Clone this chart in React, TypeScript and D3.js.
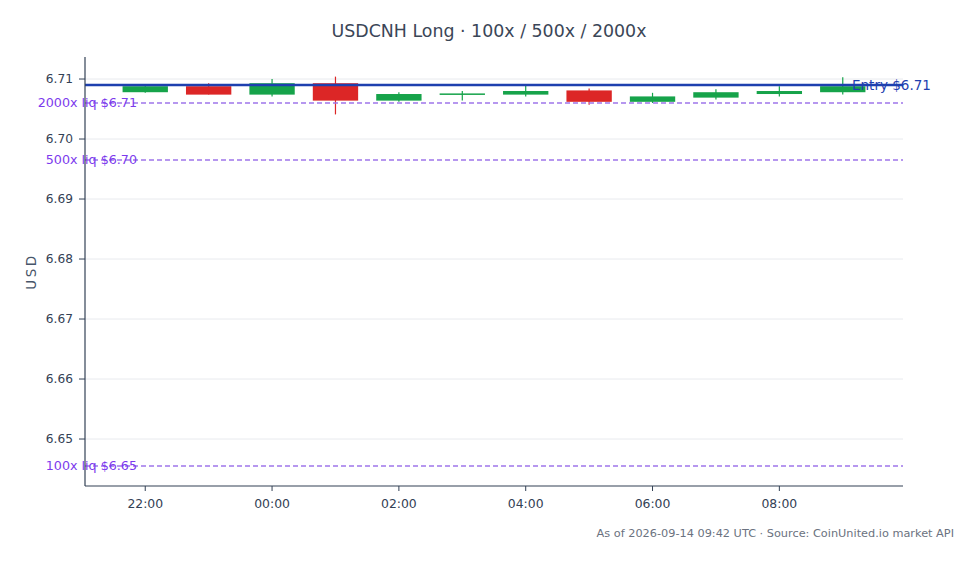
import React from "react";
import * as d3 from "d3";

const times: string[] = [
  "2026-09-13T22:00:00Z", "2026-09-13T23:00:00Z", "2026-09-14T00:00:00Z", "2026-09-14T01:00:00Z",
  "2026-09-14T02:00:00Z", "2026-09-14T03:00:00Z", "2026-09-14T04:00:00Z", "2026-09-14T05:00:00Z",
  "2026-09-14T06:00:00Z", "2026-09-14T07:00:00Z", "2026-09-14T08:00:00Z", "2026-09-14T09:00:00Z",
];
const opens: number[] = [6.7078, 6.7088, 6.7074, 6.7093, 6.7064, 6.7074, 6.7074, 6.7081, 6.7062, 6.7069, 6.7075, 6.7078];
const highs: number[] = [6.7090, 6.7093, 6.7100, 6.7104, 6.7078, 6.7080, 6.7089, 6.7084, 6.7077, 6.7083, 6.7088, 6.7103];
const lows: number[] = [6.7077, 6.7074, 6.7071, 6.7041, 6.7062, 6.7064, 6.7071, 6.7057, 6.7060, 6.7066, 6.7071, 6.7074];
const closes: number[] = [6.7088, 6.7074, 6.7093, 6.7064, 6.7075, 6.7076, 6.7080, 6.7062, 6.7071, 6.7078, 6.7080, 6.7088];

const entryPrice = 6.709;
const entryLabel = "Entry $6.71";
const liqLevels: number[] = [6.706, 6.6965, 6.6455];
const liqLabels: string[] = ["2000x liq $6.71", "500x liq $6.70", "100x liq $6.65"];
const yTicks: number[] = [6.65, 6.66, 6.67, 6.68, 6.69, 6.70, 6.71];
const yDomain: number[] = [6.64217, 6.71367];

const title = "USDCNH Long · 100x / 500x / 2000x";
const yLabel = "USD";
const footer = "As of 2026-09-14 09:42 UTC · Source: CoinUnited.io market API";

const W = 978, H = 564;
const M = { left: 85, right: 75, top: 57, bottom: 78 };
const FONT = "'DejaVu Sans', sans-serif";
const UP = "#16a34a", DOWN = "#dc2626";
const AXIS = "#334155";

export default function App() {
  const dates = times.map((t) => new Date(t));
  const pad = 57 * 60 * 1000;
  const x = d3
    .scaleUtc()
    .domain([new Date(+dates[0] - pad), new Date(+dates[dates.length - 1] + pad)])
    .range([M.left, W - M.right]);
  const y = d3.scaleLinear().domain(yDomain).range([H - M.bottom, M.top]);
  const hourPx = x(new Date(+dates[0] + 3600000)) - x(dates[0]);
  const bw = hourPx * 0.715;
  const xTicks = x.ticks(d3.utcHour.every(2) as any);
  const fmt = d3.utcFormat("%H:%M");
  const x0 = M.left, x1 = W - M.right, yB = H - M.bottom;

  return (
    <svg
      width={W}
      height={H}
      style={{ position: "absolute", left: 0, top: 0, background: "#fff" }}
      fontFamily={FONT}
    >
      <rect width={W} height={H} fill="#fff" />
      <text x={W / 2} y={37} textAnchor="middle" fontSize={17.4} fill="#3b4657">
        {title}
      </text>
      {yTicks.map((t) => (
        <line key={"g" + t} x1={x0} x2={x1} y1={y(t)} y2={y(t)} stroke="#e8eaee" strokeWidth={1} />
      ))}
      {dates.map((d, i) => {
        const up = closes[i] >= opens[i];
        const c = up ? UP : DOWN;
        const cx = x(d);
        const top = y(Math.max(opens[i], closes[i]));
        const bot = y(Math.min(opens[i], closes[i]));
        return (
          <g key={"c" + i}>
            <line x1={cx} x2={cx} y1={y(highs[i])} y2={y(lows[i])} stroke={c} strokeWidth={1.2} />
            <rect x={cx - bw / 2} y={top} width={bw} height={Math.max(bot - top, 1.5)} fill={c} />
          </g>
        );
      })}
      <line x1={x0} x2={x1} y1={y(entryPrice)} y2={y(entryPrice)} stroke="#1e40af" strokeWidth={2.5} />
      <text x={852} y={y(entryPrice)} dy="0.05em" fontSize={13.5} fill="#1e40af" dominantBaseline="middle">
        {entryLabel}
      </text>
      {liqLevels.map((v, i) => (
        <g key={"l" + i}>
          <line x1={x0} x2={x1} y1={y(v)} y2={y(v)} stroke="#9f75ea" strokeWidth={1.4} strokeDasharray="5,3" />
          <text x={137} y={y(v)} dy="0.05em" textAnchor="end" fontSize={12.7} fill="#7c3aed" dominantBaseline="middle">
            {liqLabels[i]}
          </text>
        </g>
      ))}
      <line x1={x0} x2={x0} y1={M.top} y2={yB} stroke={AXIS} strokeWidth={1.2} />
      <line x1={x0} x2={x1} y1={yB} y2={yB} stroke={AXIS} strokeWidth={1.2} />
      {yTicks.map((t) => (
        <g key={"yt" + t}>
          <line x1={x0 - 6} x2={x0} y1={y(t)} y2={y(t)} stroke={AXIS} strokeWidth={1} />
          <text x={x0 - 12} y={y(t)} dy="0.35em" textAnchor="end" fontSize={12.2} fill={AXIS}>
            {t.toFixed(2)}
          </text>
        </g>
      ))}
      {xTicks.map((t) => (
        <g key={"xt" + +t}>
          <line x1={x(t)} x2={x(t)} y1={yB} y2={yB + 5} stroke={AXIS} strokeWidth={1} />
          <text x={x(t)} y={508} textAnchor="middle" fontSize={12.4} fill={AXIS}>
            {fmt(t)}
          </text>
        </g>
      ))}
      <text
        transform={`translate(31,${(M.top + yB) / 2}) rotate(-90)`}
        textAnchor="middle"
        dy="0.35em"
        fontSize={13.5}
        letterSpacing={2.5}
        fill="#475569"
      >
        {yLabel}
      </text>
      <text x={954} y={537} textAnchor="end" fontSize={11.3} fill="#6b7280">
        {footer}
      </text>
    </svg>
  );
}
